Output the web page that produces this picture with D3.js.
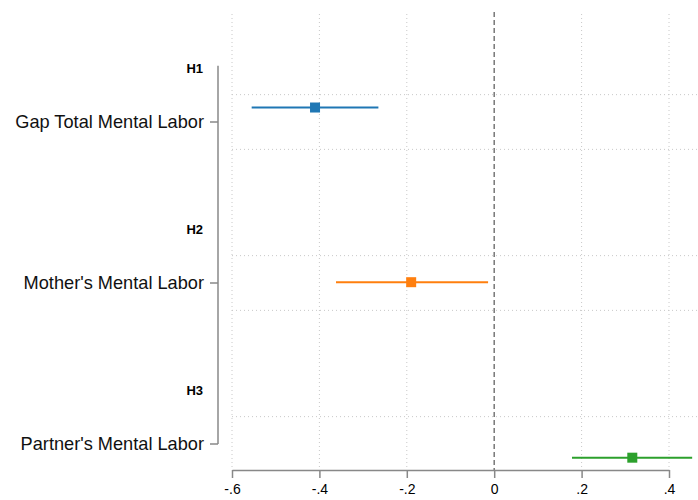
<!DOCTYPE html>
<html><head><meta charset="utf-8">
<script src="https://cdn.jsdelivr.net/npm/d3@7"></script>
<style>body{margin:0;background:#fff}svg{display:block;font-family:"Liberation Sans",Arial,sans-serif}</style>
</head><body><svg id="c" width="698" height="500"></svg>
<script>
const categories = ["Gap Total Mental Labor", "Mother's Mental Labor", "Partner's Mental Labor"];
const headers = ["H1", "H2", "H3"];
const estimates = [-0.41, -0.19, 0.316];
const ciLow = [-0.555, -0.362, 0.178];
const ciHigh = [-0.265, -0.014, 0.453];
const offsets = [-0.09, -0.005, 0.085];
const colors = ["#1f77b4", "#ff7f0e", "#2ca02c"];
const xTicks = [-0.6, -0.4, -0.2, 0, 0.2, 0.4];
const xTickLabels = ["-.6", "-.4", "-.2", "0", ".2", ".4"];

const svg = d3.select("#c");
const x = d3.scaleLinear().domain([-0.6, 0.4]).range([232, 669]);
const y = d3.scaleLinear().domain([1, 3]).range([122, 444]);
const plotTop = 12, plotBottom = 470, plotRight = 698;

// vertical gridlines
svg.append("g").selectAll("line").data(xTicks.filter(d => d !== 0)).join("line")
  .attr("x1", d => x(d)).attr("x2", d => x(d)).attr("y1", plotTop + 2).attr("y2", plotBottom)
  .attr("stroke", "#c8c8c8").attr("stroke-width", 1).attr("stroke-dasharray", "1,3");
// horizontal gridlines
const hg = [];
categories.forEach((c, i) => { hg.push(i + 1 - 0.17); if (i < 2) hg.push(i + 1 + 0.17); });
svg.append("g").selectAll("line").data(hg).join("line")
  .attr("x1", 232).attr("x2", plotRight).attr("y1", d => y(d)).attr("y2", d => y(d))
  .attr("stroke", "#c8c8c8").attr("stroke-width", 1).attr("stroke-dasharray", "1,3");
// zero line
svg.append("line").attr("x1", x(0)).attr("x2", x(0)).attr("y1", plotTop).attr("y2", plotBottom)
  .attr("stroke", "#777").attr("stroke-width", 1.5).attr("stroke-dasharray", "5,3");

// x axis
const xa = svg.append("g").attr("transform", `translate(0,${plotBottom})`)
  .call(d3.axisBottom(x).tickValues(xTicks).tickFormat((d, i) => xTickLabels[i]).tickSize(8).tickSizeOuter(0));
xa.select(".domain").attr("stroke", "#888").attr("stroke-width", 1.5);
xa.selectAll(".tick line").attr("stroke", "#888").attr("stroke-width", 1.5);
xa.selectAll(".tick text").attr("font-size", 14).attr("fill", "#000").attr("dy", "0.95em")
  .attr("font-family", "Liberation Sans, Arial, sans-serif");

// y axis
const ya = svg.append("g").attr("transform", "translate(218,0)");
ya.append("line").attr("x1", 0).attr("x2", 0).attr("y1", y(1 - 0.35)).attr("y2", y(3))
  .attr("stroke", "#888").attr("stroke-width", 1.5);
ya.selectAll(".tk").data(categories).join("line").attr("class", "tk")
  .attr("x1", -8).attr("x2", 0).attr("y1", (d, i) => y(i + 1)).attr("y2", (d, i) => y(i + 1))
  .attr("stroke", "#888").attr("stroke-width", 1.5);
svg.append("g").selectAll("text").data(categories).join("text")
  .attr("x", 204).attr("y", (d, i) => y(i + 1)).attr("dy", "0.35em")
  .attr("text-anchor", "end").attr("font-size", 18.2).attr("fill", "#111").text(d => d);
svg.append("g").selectAll("text").data(headers).join("text")
  .attr("x", 203).attr("y", (d, i) => y(i + 1 - 0.335)).attr("dy", "0.35em")
  .attr("text-anchor", "end").attr("font-size", 13).attr("font-weight", "bold").attr("fill", "#000").text(d => d);

// CIs and points
const g = svg.append("g");
categories.forEach((c, i) => {
  const yy = y(i + 1 + offsets[i]);
  g.append("line").attr("x1", x(ciLow[i])).attr("x2", x(ciHigh[i])).attr("y1", yy).attr("y2", yy)
    .attr("stroke", colors[i]).attr("stroke-width", 2);
  g.append("rect").attr("x", x(estimates[i]) - 5).attr("y", yy - 5).attr("width", 10).attr("height", 10)
    .attr("fill", colors[i]);
});
</script></body></html>
